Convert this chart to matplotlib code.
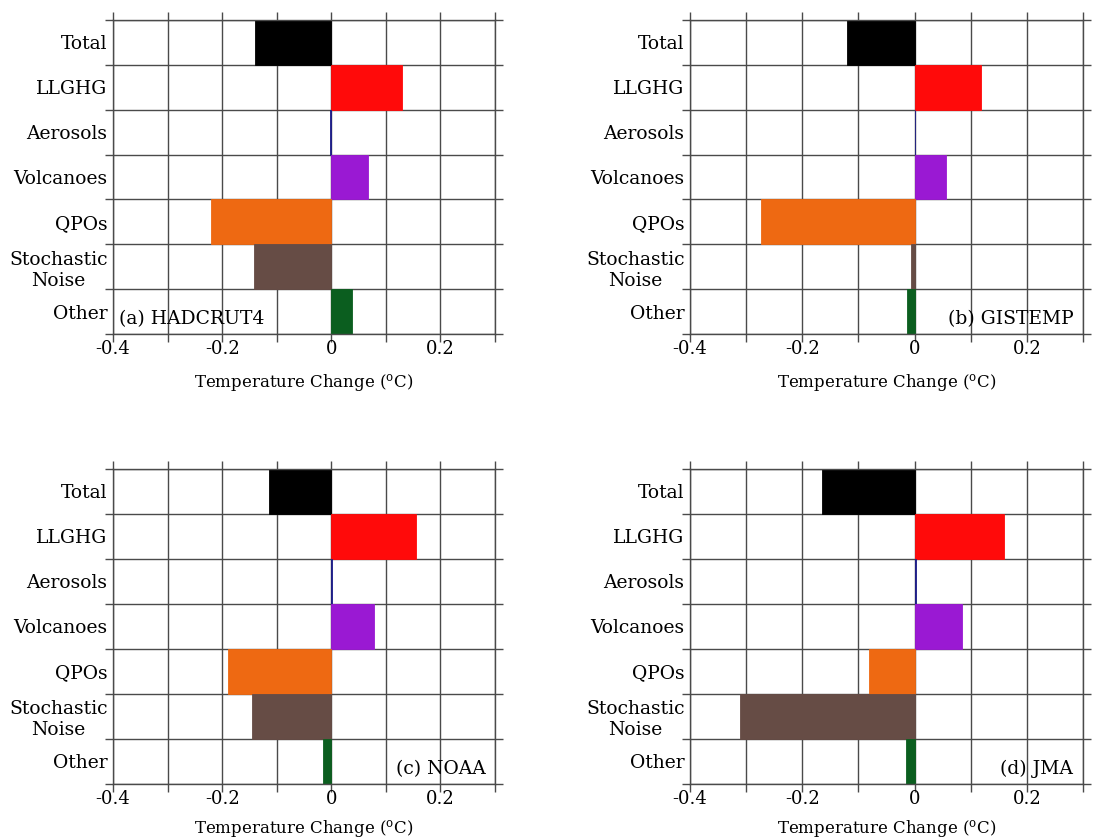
import numpy as np
import matplotlib
matplotlib.use("Agg")
import matplotlib.pyplot as plt

plt.rcParams["font.family"] = "DejaVu Serif"
plt.rcParams["mathtext.fontset"] = "dejavuserif"

# categories, top to bottom
categories = ["Total", "LLGHG", "Aerosols", "Volcanoes", "QPOs",
              "Stochastic\nNoise", "Other"]
colors = ["#000000", "#ff0a0a", "#1c1c8a", "#9a19d3", "#ee6912",
          "#664c45", "#0b5e1f"]

# contributions (deg C)
hadcrut4 = [-0.140, 0.130, -0.002, 0.068, -0.221, -0.142, 0.037]
gistemp = [-0.120, 0.119, 0.001, 0.056, -0.274, -0.007, -0.014]
noaa = [-0.114, 0.156, 0.001, 0.079, -0.190, -0.146, -0.015]
jma = [-0.164, 0.160, 0.002, 0.084, -0.082, -0.311, -0.015]

panel_names = ["(a) HADCRUT4", "(b) GISTEMP", "(c) NOAA", "(d) JMA"]
panel_data = [hadcrut4, gistemp, noaa, jma]

xticks = [-0.4, -0.3, -0.2, -0.1, 0.0, 0.1, 0.2, 0.3]
xticklabels = ["-0.4", "", "-0.2", "", "0", "", "0.2", ""]

fig = plt.figure(figsize=(10.94, 8.39), dpi=100)
# axes rectangles in figure fractions
rects = [
    [0.1033, 0.6019, 0.3492, 0.3743],
    [0.6307, 0.6019, 0.3592, 0.3743],
    [0.1033, 0.0656, 0.3492, 0.3754],
    [0.6307, 0.0656, 0.3592, 0.3754],
]
gridc = "#4a4a4a"

for k in range(4):
    ax = fig.add_axes(rects[k])
    y = np.arange(len(categories))
    ax.barh(y, panel_data[k], height=1.0, color=colors,
            edgecolor=colors, linewidth=0.6, zorder=2)
    ax.set_ylim(len(categories) - 0.5, -0.5)
    ax.set_xlim(-0.4, 0.3)

    ax.set_yticks(np.arange(len(categories) + 1) - 0.5)
    ax.set_yticklabels([])
    ax.set_yticks(y, minor=True)
    ax.set_yticklabels(categories, minor=True, fontsize=13.5)
    for lab in ax.get_yticklabels(minor=True):
        lab.set_multialignment("center")
    ax.tick_params(axis="y", which="minor", length=0, pad=4)

    ax.set_xticks(xticks)
    ax.set_xticklabels(xticklabels, fontsize=13)
    ax.tick_params(axis="both", which="major", direction="out", length=6,
                   width=1.0, color=gridc, top=True, right=True)
    ax.tick_params(axis="x", which="major", pad=-2)

    ax.grid(True, which="major", color=gridc, linewidth=1.0, zorder=0)
    ax.set_axisbelow(True)
    for s in ax.spines.values():
        s.set_color(gridc)
        s.set_linewidth(1.0)

    lp = 11 if k < 2 else 8
    ax.set_xlabel("Temperature Change ($^{\\rm o}$C)", fontsize=12, labelpad=lp)

    if k == 0:
        ax.text(0.015, 0.02, panel_names[k], transform=ax.transAxes,
                fontsize=13.5, ha="left", va="bottom")
    else:
        ax.text(0.975, 0.02, panel_names[k], transform=ax.transAxes,
                fontsize=13.5, ha="right", va="bottom")

fig.savefig("out.png", dpi=100)
